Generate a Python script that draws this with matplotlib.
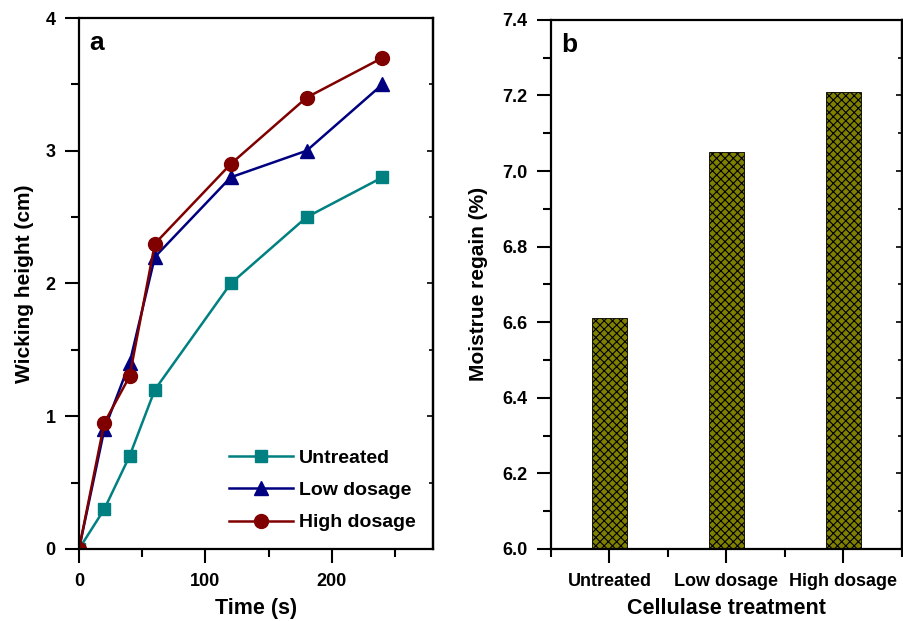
import matplotlib
matplotlib.use('Agg')
import matplotlib.pyplot as plt
from matplotlib.ticker import MultipleLocator, FormatStrFormatter

plt.rcParams['font.family'] = 'Liberation Sans'
plt.rcParams['font.weight'] = 'bold'
plt.rcParams['hatch.linewidth'] = 0.8

# wicking data
time_s = [0, 20, 40, 60, 120, 180, 240]
untreated = [0, 0.3, 0.7, 1.2, 2.0, 2.5, 2.8]
low_dosage = [0, 0.9, 1.4, 2.2, 2.8, 3.0, 3.5]
high_dosage = [0, 0.95, 1.3, 2.3, 2.9, 3.4, 3.7]

# moisture regain data
treatments = ['Untreated', 'Low dosage', 'High dosage']
regain = [6.61, 7.05, 7.21]

fig = plt.figure(figsize=(9.04, 6.21), dpi=100)
ax1 = fig.add_axes([0.0874, 0.116, 0.3916, 0.855])
ax2 = fig.add_axes([0.6095, 0.116, 0.388, 0.852])

ax1.plot(time_s, untreated, color='#008080', marker='s', ms=9, lw=1.8, label='Untreated')
ax1.plot(time_s, low_dosage, color='#000080', marker='^', ms=10, lw=1.8, label='Low dosage')
ax1.plot(time_s, high_dosage, color='#800000', marker='o', ms=10, lw=1.8, label='High dosage')
ax1.set_xlim(0, 280)
ax1.set_ylim(0, 4)
ax1.xaxis.set_major_locator(MultipleLocator(100))
ax1.xaxis.set_minor_locator(MultipleLocator(50))
ax1.yaxis.set_major_locator(MultipleLocator(1))
ax1.yaxis.set_minor_locator(MultipleLocator(0.5))
ax1.set_xlabel('Time (s)', fontsize=15.5, fontweight='bold', labelpad=6)
ax1.set_ylabel('Wicking height (cm)', fontsize=15, fontweight='bold', labelpad=8)
ax1.text(0.03, 0.975, 'a', transform=ax1.transAxes, fontsize=19, fontweight='bold', va='top')
ax1.legend(loc='lower right', bbox_to_anchor=(1.0, 0.0), frameon=False,
           handlelength=3.3, handletextpad=0.3, labelspacing=0.75,
           prop={'weight': 'bold', 'size': 14})

ax2.bar(range(len(treatments)), regain, width=0.3, color='#808000', edgecolor='black',
        hatch='xxxx', linewidth=0.6)
ax2.set_xlim(-0.5, 2.5)
ax2.set_ylim(6.0, 7.4)
ax2.set_xticks(range(len(treatments)))
ax2.set_xticklabels(treatments)
ax2.set_xticks([-0.5, 0.5, 1.5, 2.5], minor=True)
ax2.yaxis.set_major_locator(MultipleLocator(0.2))
ax2.yaxis.set_minor_locator(MultipleLocator(0.1))
ax2.yaxis.set_major_formatter(FormatStrFormatter('%.1f'))
ax2.set_xlabel('Cellulase treatment', fontsize=15.5, fontweight='bold', labelpad=6)
ax2.set_ylabel('Moistrue regain (%)', fontsize=15, fontweight='bold', labelpad=10)
ax2.text(0.03, 0.975, 'b', transform=ax2.transAxes, fontsize=19, fontweight='bold', va='top')

for ax in (ax1, ax2):
    for s in ax.spines.values():
        s.set_linewidth(1.6)
    ax.tick_params(which='both', direction='out', width=1.5, labelsize=13, top=False, right=False)
    ax.tick_params(which='major', length=10)
    ax.tick_params(which='minor', length=6)
    ax.tick_params(axis='x', pad=7)
    ax.tick_params(axis='y', pad=7)
    for lab in ax.get_xticklabels() + ax.get_yticklabels():
        lab.set_fontweight('bold')
    # inward ticks on the right side
    sec = ax.secondary_yaxis('right')
    sec.set_yticks(ax.get_yticks())
    sec.tick_params(direction='in', length=4, width=1.2, labelright=False)
    sec.yaxis.set_minor_locator(ax.yaxis.get_minor_locator())
    sec.tick_params(which='minor', direction='in', length=3, width=1.2)
    sec.spines['right'].set_linewidth(1.6)

fig.savefig('out.png', dpi=100)
